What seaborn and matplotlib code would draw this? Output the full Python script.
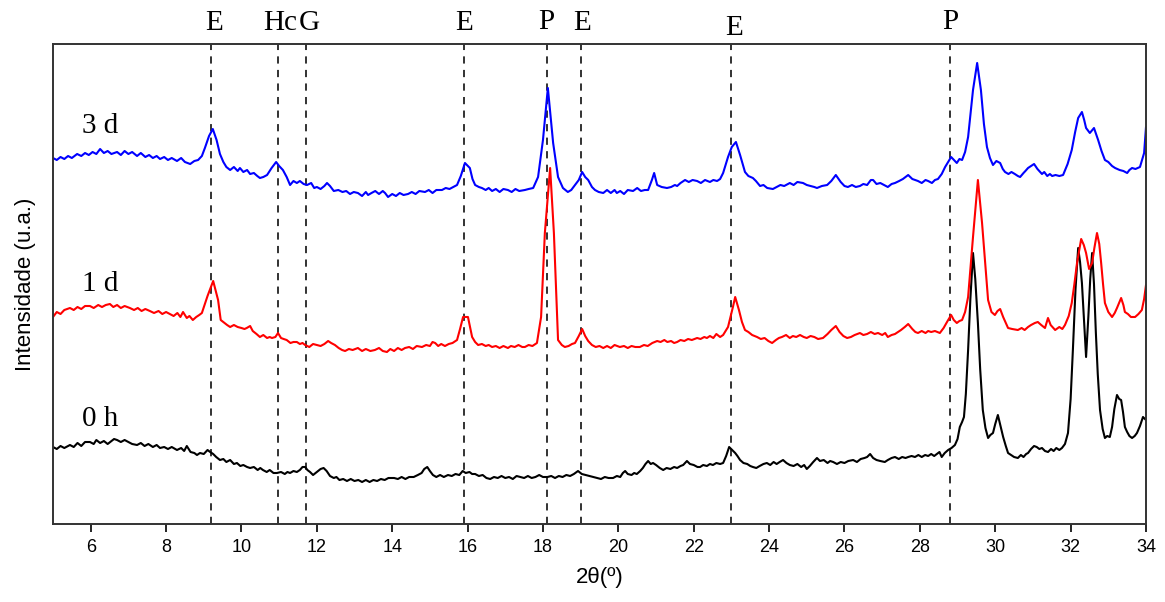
import matplotlib
matplotlib.use("Agg")
import matplotlib.pyplot as plt
import matplotlib.transforms as mtransforms
import seaborn as sns
import pandas as pd

# ---- data: (2theta, intensity in arbitrary units) ----
pts_3d = [
    (5.0, 366), (5.1, 364), (5.2, 367), (5.3, 365), (5.4, 368), (5.5, 366), (5.64, 370), (5.75, 368),
    (5.85, 371), (5.95, 369), (6.05, 372), (6.15, 370), (6.25, 375), (6.35, 371), (6.45, 373), (6.55, 370),
    (6.7, 372), (6.8, 369), (6.9, 373), (7.0, 370), (7.1, 372), (7.23, 368), (7.33, 371), (7.45, 367),
    (7.55, 369), (7.65, 366), (7.75, 368), (7.84, 365), (7.95, 367), (8.05, 364), (8.15, 366), (8.29, 363),
    (8.4, 366), (8.5, 362), (8.64, 360), (8.75, 363), (8.85, 364), (8.95, 368), (9.03, 376), (9.14, 388),
    (9.24, 395), (9.34, 384), (9.43, 370), (9.52, 362), (9.6, 357), (9.7, 354), (9.8, 357), (9.9, 353),
    (9.96, 356), (10.05, 352), (10.15, 354), (10.23, 350), (10.33, 351), (10.42, 348), (10.49, 346),
    (10.58, 347), (10.68, 349), (10.8, 356), (10.92, 362), (11.0, 358), (11.1, 354), (11.2, 347),
    (11.29, 339), (11.38, 343), (11.47, 341), (11.55, 343), (11.65, 340), (11.74, 339), (11.85, 341),
    (11.93, 336), (12.0, 337), (12.1, 335), (12.2, 338), (12.27, 341), (12.35, 338), (12.45, 333),
    (12.57, 334), (12.68, 332), (12.78, 333), (12.88, 330), (12.98, 332), (13.09, 331), (13.2, 328),
    (13.3, 332), (13.36, 329), (13.45, 331), (13.55, 333), (13.65, 330), (13.75, 333), (13.81, 331),
    (13.89, 327), (14.0, 330), (14.1, 328), (14.2, 331), (14.3, 329), (14.42, 330), (14.52, 332),
    (14.62, 330), (14.72, 333), (14.87, 332), (14.97, 334), (15.07, 331), (15.17, 334), (15.32, 334),
    (15.42, 336), (15.52, 335), (15.62, 337), (15.72, 339), (15.82, 348), (15.93, 361), (16.06, 356),
    (16.13, 345), (16.2, 339), (16.3, 337), (16.38, 336), (16.48, 334), (16.56, 336), (16.65, 333),
    (16.75, 335), (16.85, 332), (16.95, 335), (17.07, 334), (17.17, 332), (17.27, 335), (17.37, 333),
    (17.52, 334), (17.62, 335), (17.74, 336), (17.87, 347), (18.0, 384), (18.13, 436), (18.27, 381),
    (18.4, 347), (18.53, 336), (18.66, 332), (18.75, 334), (18.85, 339), (18.95, 344), (19.04, 352),
    (19.12, 347), (19.2, 344), (19.3, 337), (19.38, 334), (19.48, 332), (19.6, 331), (19.7, 334),
    (19.8, 331), (19.9, 334), (19.96, 331), (20.05, 333), (20.15, 330), (20.25, 334), (20.39, 333),
    (20.5, 336), (20.6, 333), (20.7, 334), (20.79, 334), (20.89, 344), (20.95, 351), (21.03, 339),
    (21.15, 337), (21.29, 336), (21.4, 337), (21.5, 339), (21.56, 338), (21.65, 341), (21.77, 344),
    (21.87, 342), (21.97, 344), (22.09, 343), (22.19, 341), (22.3, 344), (22.43, 342), (22.52, 344),
    (22.62, 343), (22.7, 345), (22.78, 351), (22.91, 367), (23.01, 377), (23.12, 382), (23.23, 369),
    (23.36, 352), (23.45, 348), (23.57, 346), (23.65, 343), (23.76, 338), (23.85, 339), (23.95, 336),
    (24.1, 335), (24.2, 337), (24.3, 339), (24.4, 338), (24.55, 341), (24.65, 339), (24.75, 342),
    (24.9, 341), (25.0, 339), (25.1, 338), (25.2, 337), (25.27, 336), (25.4, 338), (25.54, 339),
    (25.65, 343), (25.77, 349), (25.9, 342), (26.0, 338), (26.09, 337), (26.2, 339), (26.3, 337),
    (26.41, 338), (26.5, 340), (26.6, 339), (26.7, 344), (26.76, 344), (26.85, 340), (26.95, 341),
    (27.05, 339), (27.15, 337), (27.25, 340), (27.34, 341), (27.45, 343), (27.55, 345), (27.69, 349),
    (27.8, 345), (27.95, 343), (28.05, 341), (28.15, 344), (28.22, 343), (28.32, 341), (28.4, 344),
    (28.48, 345), (28.58, 350), (28.67, 357), (28.83, 367), (28.98, 361), (29.05, 365), (29.12, 364),
    (29.2, 372), (29.28, 387), (29.41, 434), (29.52, 461), (29.62, 434), (29.7, 400), (29.78, 377),
    (29.86, 366), (29.94, 359), (30.03, 363), (30.13, 361), (30.2, 355), (30.26, 352), (30.35, 350),
    (30.43, 352), (30.52, 350), (30.6, 348), (30.66, 347), (30.75, 351), (30.8, 353), (30.87, 356),
    (30.95, 358), (31.03, 360), (31.12, 355), (31.24, 350), (31.3, 352), (31.38, 348), (31.45, 350),
    (31.51, 348), (31.6, 349), (31.7, 348), (31.8, 349), (31.92, 360), (32.03, 374), (32.12, 392),
    (32.2, 406), (32.3, 412), (32.36, 404), (32.41, 396), (32.51, 391), (32.62, 396), (32.73, 384),
    (32.82, 373), (32.91, 364), (33.0, 362), (33.1, 358), (33.18, 356), (33.3, 354), (33.4, 353),
    (33.5, 351), (33.56, 354), (33.63, 356), (33.72, 355), (33.84, 357), (33.95, 371), (34.0, 397),
]

pts_1d = [
    (5.0, 207), (5.1, 212), (5.2, 210), (5.3, 214), (5.45, 216), (5.55, 214), (5.65, 217), (5.75, 215),
    (5.85, 218), (5.98, 218), (6.08, 216), (6.2, 219), (6.3, 217), (6.4, 219), (6.51, 220), (6.6, 217),
    (6.7, 219), (6.8, 216), (6.9, 218), (7.04, 216), (7.15, 214), (7.25, 216), (7.35, 213), (7.45, 215),
    (7.57, 213), (7.68, 211), (7.8, 213), (7.9, 210), (8.0, 212), (8.1, 210), (8.2, 208), (8.3, 211),
    (8.38, 207), (8.45, 212), (8.55, 206), (8.62, 208), (8.71, 204), (8.8, 207), (8.88, 209), (8.95, 211),
    (9.1, 228), (9.25, 243), (9.38, 224), (9.45, 204), (9.55, 201), (9.62, 199), (9.7, 197), (9.8, 199),
    (9.9, 197), (10.0, 196), (10.08, 195), (10.14, 196), (10.23, 198), (10.3, 193), (10.4, 190),
    (10.49, 187), (10.58, 189), (10.68, 186), (10.75, 187), (10.81, 186), (10.9, 187), (10.97, 191),
    (11.05, 186), (11.12, 185), (11.2, 184), (11.3, 181), (11.38, 182), (11.47, 182), (11.55, 180),
    (11.62, 181), (11.69, 179), (11.8, 177), (11.9, 180), (12.0, 179), (12.1, 178), (12.2, 180),
    (12.3, 183), (12.38, 181), (12.48, 179), (12.58, 176), (12.67, 174), (12.75, 173), (12.85, 175),
    (12.95, 174), (13.09, 176), (13.2, 173), (13.3, 175), (13.42, 173), (13.54, 174), (13.65, 176),
    (13.75, 173), (13.86, 172), (13.95, 175), (14.05, 173), (14.15, 176), (14.25, 174), (14.34, 176),
    (14.45, 177), (14.55, 175), (14.65, 178), (14.79, 177), (14.9, 179), (15.0, 178), (15.07, 182),
    (15.14, 181), (15.22, 178), (15.3, 180), (15.4, 178), (15.5, 180), (15.6, 181), (15.72, 184),
    (15.8, 195), (15.88, 207), (16.01, 207), (16.12, 187), (16.2, 182), (16.28, 179), (16.38, 180),
    (16.48, 178), (16.56, 179), (16.65, 177), (16.75, 178), (16.85, 176), (16.95, 178), (17.07, 176),
    (17.15, 178), (17.25, 177), (17.35, 179), (17.45, 177), (17.52, 177), (17.62, 179), (17.72, 178),
    (17.84, 181), (17.95, 207), (18.05, 291), (18.19, 356), (18.29, 291), (18.4, 184), (18.5, 179),
    (18.58, 177), (18.68, 178), (18.77, 180), (18.85, 181), (18.95, 188), (19.04, 195), (19.12, 188),
    (19.2, 183), (19.3, 179), (19.4, 177), (19.5, 178), (19.6, 176), (19.7, 178), (19.8, 176),
    (19.9, 179), (20.04, 177), (20.15, 178), (20.25, 176), (20.35, 178), (20.45, 177), (20.57, 177),
    (20.68, 179), (20.78, 178), (20.9, 181), (21.03, 183), (21.12, 182), (21.22, 184), (21.3, 182),
    (21.4, 183), (21.48, 181), (21.56, 182), (21.65, 184), (21.75, 183), (21.85, 185), (21.95, 184),
    (22.09, 186), (22.18, 185), (22.28, 187), (22.35, 186), (22.43, 188), (22.52, 186), (22.6, 190),
    (22.7, 187), (22.78, 189), (22.91, 197), (23.04, 217), (23.1, 227), (23.2, 214), (23.28, 202),
    (23.36, 194), (23.45, 192), (23.55, 189), (23.68, 187), (23.78, 185), (23.88, 186), (23.98, 183),
    (24.08, 181), (24.18, 184), (24.26, 186), (24.34, 187), (24.45, 189), (24.55, 186), (24.63, 188),
    (24.72, 187), (24.82, 189), (24.92, 187), (25.0, 186), (25.1, 188), (25.2, 187), (25.3, 185),
    (25.43, 186), (25.55, 190), (25.65, 194), (25.77, 198), (25.87, 192), (25.97, 188), (26.07, 186),
    (26.17, 187), (26.27, 189), (26.41, 191), (26.5, 189), (26.6, 190), (26.7, 192), (26.8, 190),
    (26.89, 191), (27.0, 189), (27.08, 191), (27.15, 187), (27.25, 189), (27.34, 190), (27.42, 192),
    (27.5, 194), (27.6, 197), (27.69, 200), (27.8, 195), (27.88, 192), (27.95, 191), (28.05, 193),
    (28.15, 191), (28.22, 193), (28.3, 192), (28.4, 193), (28.53, 191), (28.63, 196), (28.72, 202),
    (28.83, 209), (28.9, 204), (28.98, 201), (29.05, 203), (29.12, 204), (29.2, 212), (29.28, 227),
    (29.41, 287), (29.54, 344), (29.65, 301), (29.73, 262), (29.81, 224), (29.9, 212), (29.99, 209),
    (30.06, 213), (30.13, 215), (30.21, 207), (30.28, 201), (30.34, 196), (30.45, 195), (30.6, 194),
    (30.7, 196), (30.78, 194), (30.87, 197), (30.95, 199), (31.05, 201), (31.13, 202), (31.22, 199),
    (31.32, 196), (31.4, 206), (31.47, 199), (31.59, 194), (31.7, 197), (31.78, 195), (31.85, 199),
    (31.95, 208), (32.03, 221), (32.1, 240), (32.17, 261), (32.28, 285), (32.35, 279), (32.41, 271),
    (32.49, 255), (32.57, 261), (32.63, 276), (32.7, 291), (32.76, 280), (32.81, 261), (32.86, 240),
    (32.91, 221), (33.0, 212), (33.1, 207), (33.17, 211), (33.23, 216), (33.34, 226), (33.4, 219),
    (33.44, 212), (33.52, 210), (33.6, 207), (33.71, 207), (33.8, 210), (33.89, 214), (33.95, 225),
    (34.0, 239),
]

pts_0h = [
    (5.0, 77), (5.1, 75), (5.2, 78), (5.3, 76), (5.45, 79), (5.55, 77), (5.65, 81), (5.75, 78),
    (5.85, 82), (5.98, 82), (6.08, 80), (6.15, 84), (6.25, 81), (6.35, 83), (6.45, 80), (6.55, 83),
    (6.62, 85), (6.7, 84), (6.8, 82), (6.9, 84), (7.0, 82), (7.1, 80), (7.23, 79), (7.33, 81),
    (7.43, 78), (7.53, 80), (7.65, 77), (7.75, 79), (7.84, 76), (7.95, 77), (8.05, 75), (8.15, 77),
    (8.29, 74), (8.4, 76), (8.48, 73), (8.55, 78), (8.65, 72), (8.75, 71), (8.82, 69), (8.9, 71),
    (9.0, 70), (9.1, 74), (9.17, 72), (9.25, 70), (9.33, 67), (9.43, 64), (9.52, 65), (9.6, 62),
    (9.7, 64), (9.8, 60), (9.88, 61), (9.97, 58), (10.05, 59), (10.15, 57), (10.23, 56), (10.33, 57),
    (10.43, 54), (10.5, 56), (10.57, 54), (10.67, 52), (10.75, 54), (10.85, 51), (10.94, 51),
    (11.05, 52), (11.15, 50), (11.22, 52), (11.29, 51), (11.38, 53), (11.47, 52), (11.55, 54),
    (11.62, 57), (11.69, 57), (11.75, 54), (11.82, 52), (11.9, 49), (12.0, 52), (12.1, 55),
    (12.18, 56), (12.26, 53), (12.35, 48), (12.45, 46), (12.52, 47), (12.6, 44), (12.7, 45),
    (12.8, 43), (12.9, 45), (13.0, 43), (13.1, 44), (13.2, 42), (13.3, 44), (13.4, 42), (13.5, 44),
    (13.6, 43), (13.7, 45), (13.8, 44), (13.9, 46), (14.05, 46), (14.15, 45), (14.25, 47), (14.35, 45),
    (14.45, 47), (14.57, 47), (14.68, 49), (14.78, 51), (14.85, 55), (14.93, 57), (15.0, 53),
    (15.08, 49), (15.17, 47), (15.27, 49), (15.37, 47), (15.48, 49), (15.58, 48), (15.68, 50),
    (15.78, 49), (15.87, 53), (15.95, 51), (16.05, 52), (16.12, 50), (16.2, 50), (16.3, 48),
    (16.4, 49), (16.5, 46), (16.6, 45), (16.7, 47), (16.8, 46), (16.9, 48), (17.0, 46), (17.1, 47),
    (17.2, 45), (17.3, 48), (17.4, 47), (17.5, 46), (17.6, 48), (17.7, 46), (17.8, 47), (17.9, 49),
    (18.0, 47), (18.12, 47), (18.22, 48), (18.32, 46), (18.42, 48), (18.52, 47), (18.62, 49),
    (18.72, 48), (18.82, 50), (18.93, 53), (19.03, 50), (19.13, 49), (19.23, 48), (19.33, 47),
    (19.43, 46), (19.54, 45), (19.64, 47), (19.74, 46), (19.86, 46), (19.96, 48), (20.05, 47),
    (20.12, 51), (20.18, 53), (20.25, 50), (20.35, 49), (20.42, 51), (20.49, 50), (20.58, 53),
    (20.65, 56), (20.72, 60), (20.79, 63), (20.86, 60), (20.92, 61), (21.0, 59), (21.1, 56),
    (21.19, 54), (21.28, 56), (21.38, 55), (21.48, 57), (21.56, 56), (21.65, 58), (21.72, 59),
    (21.82, 63), (21.9, 60), (22.0, 59), (22.1, 57), (22.17, 57), (22.25, 59), (22.35, 58),
    (22.43, 60), (22.51, 59), (22.6, 61), (22.7, 60), (22.78, 61), (22.86, 68), (22.94, 77),
    (23.02, 74), (23.1, 71), (23.16, 68), (23.23, 64), (23.32, 61), (23.42, 60), (23.5, 58),
    (23.57, 57), (23.66, 56), (23.75, 58), (23.85, 60), (23.94, 61), (24.03, 59), (24.12, 62),
    (24.2, 60), (24.28, 62), (24.37, 64), (24.46, 61), (24.55, 59), (24.65, 58), (24.75, 60),
    (24.85, 57), (24.93, 59), (25.0, 55), (25.08, 58), (25.17, 62), (25.27, 66), (25.35, 63),
    (25.45, 64), (25.55, 61), (25.62, 63), (25.7, 62), (25.8, 60), (25.9, 62), (26.0, 61), (26.1, 63),
    (26.23, 64), (26.33, 62), (26.43, 65), (26.53, 66), (26.6, 67), (26.68, 70), (26.76, 66),
    (26.85, 64), (26.95, 63), (27.07, 62), (27.15, 64), (27.25, 66), (27.34, 67), (27.44, 65),
    (27.53, 67), (27.62, 66), (27.69, 67), (27.78, 68), (27.87, 67), (27.96, 69), (28.05, 67),
    (28.14, 69), (28.22, 68), (28.3, 70), (28.38, 68), (28.45, 70), (28.52, 72), (28.58, 67),
    (28.66, 71), (28.75, 74), (28.84, 76), (28.93, 79), (29.0, 85), (29.06, 97), (29.12, 102),
    (29.17, 107), (29.22, 130), (29.28, 174), (29.34, 225), (29.41, 271), (29.47, 245), (29.54, 201),
    (29.6, 155), (29.67, 114), (29.74, 96), (29.81, 86), (29.87, 89), (29.94, 91), (30.0, 100),
    (30.07, 109), (30.14, 98), (30.21, 87), (30.28, 78), (30.34, 71), (30.42, 69), (30.5, 67),
    (30.6, 66), (30.68, 69), (30.75, 67), (30.82, 70), (30.87, 71), (30.95, 75), (31.03, 78),
    (31.1, 77), (31.17, 75), (31.24, 76), (31.32, 73), (31.4, 72), (31.48, 75), (31.55, 73),
    (31.62, 76), (31.7, 74), (31.77, 76), (31.85, 80), (31.93, 91), (32.0, 125), (32.06, 174),
    (32.13, 235), (32.2, 276), (32.25, 262), (32.3, 241), (32.36, 200), (32.41, 167), (32.47, 207),
    (32.52, 245), (32.57, 271), (32.62, 240), (32.67, 191), (32.72, 150), (32.78, 114), (32.85, 95),
    (32.91, 86), (32.97, 88), (33.04, 87), (33.1, 97), (33.16, 115), (33.23, 129), (33.29, 125),
    (33.34, 124), (33.39, 112), (33.44, 97), (33.5, 92), (33.56, 88), (33.63, 86), (33.7, 88),
    (33.76, 91), (33.84, 98), (33.92, 107), (34.0, 104),
]

sample_names = ["0 h", "1 d", "3 d"]
sample_colors = ["black", "red", "blue"]
sample_label_y = [98, 233, 391]

phase_pos = [9.2, 10.97, 11.7, 15.9, 18.1, 19.0, 23.0, 28.8]
phase_lab = ["E", "Hc", "G", "E", "P", "E", "E", "P"]
phase_lab_x = [9.27, 11.02, 11.79, 15.9, 18.1, 19.04, 23.07, 28.8]
phase_lab_y = [1.044, 1.044, 1.044, 1.044, 1.046, 1.044, 1.033, 1.046]

frames = []
for name, pts in zip(sample_names, [pts_0h, pts_1d, pts_3d]):
    frames.append(pd.DataFrame({"x": [p[0] for p in pts], "y": [p[1] for p in pts], "s": name}))
df = pd.concat(frames, ignore_index=True)

sns.set_style("ticks")
plt.rcParams["font.family"] = ["Liberation Sans", "DejaVu Sans"]
plt.rcParams["text.color"] = "black"
plt.rcParams["axes.labelcolor"] = "black"
plt.rcParams["xtick.color"] = "black"
plt.rcParams["xtick.labelcolor"] = "black"

fig = plt.figure(figsize=(11.65, 6.02), dpi=100)
ax = fig.add_axes([53 / 1165, 1 - 524 / 602, (1146 - 53) / 1165, 480 / 602])

sns.lineplot(data=df, x="x", y="y", hue="s", hue_order=sample_names,
             palette=dict(zip(sample_names, sample_colors)), estimator=None,
             sort=False, linewidth=1.5, legend=False, ax=ax)

for xp in phase_pos:
    ax.axvline(xp, color="#222222", linestyle=(0, (4, 3.5)), linewidth=1.3, zorder=0)

ax.set_xlim(5, 34)
ax.set_ylim(0, 480)
ax.set_xticks(range(6, 35, 2))
ax.set_yticks([])
ax.tick_params(axis="x", direction="out", length=6, width=1.2, labelsize=13, pad=5,
               colors="black", labelcolor="black")
for sp in ax.spines.values():
    sp.set_color("#333333")
    sp.set_linewidth(1.4)

ax.set_xlabel("2θ(º)", fontsize=16, labelpad=8, color="black")
ax.set_ylabel("Intensidade (u.a.)", fontsize=16, labelpad=12, color="black")

serif = ["Liberation Serif", "DejaVu Serif"]
trans = mtransforms.blended_transform_factory(ax.transData, ax.transAxes)
for lx, ly, lab in zip(phase_lab_x, phase_lab_y, phase_lab):
    ax.text(lx, ly, lab, transform=trans, ha="center", va="center", color="black",
            fontsize=21, family=serif, clip_on=False)

for name, yy in zip(sample_names, sample_label_y):
    ax.text(5.77, yy, name, ha="left", va="baseline", fontsize=21, family=serif, color="black")

fig.savefig("out.png", dpi=100)
